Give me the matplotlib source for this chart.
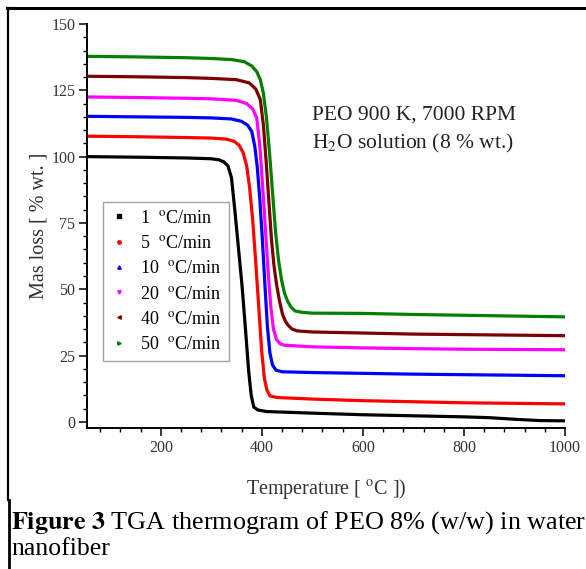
import numpy as np
import matplotlib
matplotlib.use("Agg")
import matplotlib.pyplot as plt
from matplotlib.lines import Line2D

plt.rcParams['font.family'] = ['Liberation Serif', 'DejaVu Serif']
plt.rcParams['mathtext.fontset'] = 'stix'

# TGA curves: temperature (C) and mass (% wt.)
t_1 = [55, 150, 250, 300, 315, 325, 333, 340, 347, 354, 361, 368, 374, 379, 384, 392, 410, 500, 600, 700, 800, 850, 900, 950, 1000]
w_1 = [100.0, 99.8, 99.5, 99.2, 98.8, 98.0, 96.5, 92.0, 79.0, 65.0, 51.0, 34.0, 19.0, 10.0, 5.6, 4.5, 3.9, 3.3, 2.7, 2.3, 1.9, 1.6, 1.0, 0.5, 0.4]

t_5 = [55, 150, 250, 300, 330, 345, 355, 363, 370, 376, 382, 388, 394, 400, 405, 410, 416, 430, 500, 600, 700, 800, 900, 1000]
w_5 = [107.7, 107.5, 107.2, 107.0, 106.6, 105.8, 104.3, 101.5, 96.5, 88.0, 76.0, 60.0, 43.0, 26.0, 16.5, 12.0, 9.8, 9.2, 8.6, 8.0, 7.6, 7.2, 7.0, 6.8]

t_10 = [55, 150, 250, 300, 340, 360, 372, 380, 386, 391, 396, 401, 406, 411, 416, 421, 428, 440, 500, 600, 700, 800, 900, 1000]
w_10 = [115.2, 115.0, 114.8, 114.6, 114.2, 113.3, 111.8, 109.5, 104.0, 96.0, 84.0, 69.0, 52.0, 36.0, 26.0, 21.5, 19.5, 18.9, 18.6, 18.3, 18.0, 17.8, 17.6, 17.4]

t_20 = [55, 150, 250, 300, 350, 370, 382, 390, 396, 399, 404, 409, 413, 418, 423, 429, 436, 445, 500, 600, 700, 800, 900, 1000]
w_20 = [122.5, 122.3, 122.0, 121.8, 121.2, 120.0, 118.0, 114.5, 104.0, 96.0, 82.0, 67.0, 55.0, 43.0, 35.0, 31.0, 29.5, 28.9, 28.3, 27.9, 27.6, 27.4, 27.3, 27.2]

t_40 = [55, 150, 250, 300, 350, 375, 388, 397, 403, 409, 414, 419, 424, 429, 435, 441, 447, 453, 460, 470, 500, 600, 700, 800, 900, 1000]
w_40 = [130.3, 130.1, 129.8, 129.5, 129.0, 127.8, 125.5, 121.5, 112.0, 97.0, 83.0, 69.0, 59.0, 52.0, 45.5, 40.5, 37.8, 36.2, 35.0, 34.3, 33.9, 33.5, 33.1, 32.9, 32.7, 32.5]

t_50 = [55, 150, 250, 300, 340, 365, 380, 390, 397, 403, 409, 415, 421, 427, 433, 439, 445, 451, 458, 466, 480, 500, 600, 700, 800, 900, 1000]
w_50 = [137.8, 137.6, 137.3, 137.0, 136.6, 135.8, 134.2, 132.0, 129.0, 124.0, 115.0, 102.0, 87.0, 72.0, 61.0, 53.5, 48.5, 45.5, 43.2, 41.8, 41.3, 41.0, 40.9, 40.5, 40.2, 39.9, 39.6]

rates = ['1', '5', '10', '20', '40', '50']
temps = [t_1, t_5, t_10, t_20, t_40, t_50]
masses = [w_1, w_5, w_10, w_20, w_40, w_50]
colors = ['black', '#ff0000', '#0000ff', '#ff00ff', '#7b0000', '#008000']
markers = ['s', 'o', '^', 'v', '<', '>']

fig = plt.figure(figsize=(5.86, 5.69), dpi=100)
ax = fig.add_axes([87/586, 1-428/569, 478/586, 404/569])

for t, w, c in zip(temps, masses, colors):
    ax.plot(t, w, color=c, lw=2.3, solid_joinstyle='round')

ax.set_xlim(54, 1000)
ax.set_ylim(-2.3, 150)
ax.set_xticks([200, 400, 600, 800, 1000])
ax.set_xticks(np.arange(80, 1000, 40), minor=True)
ax.set_yticks([0, 25, 50, 75, 100, 125, 150])
ax.set_yticks(np.arange(0, 151, 5), minor=True)
for s in ['top', 'right']:
    ax.spines[s].set_visible(False)
for s in ['left', 'bottom']:
    ax.spines[s].set_linewidth(1.4)
ax.tick_params(which='major', direction='out', length=5.5, width=1.1, labelsize=11.5, pad=3, colors='black', labelcolor='#333333')
ax.tick_params(which='minor', direction='out', length=3, width=1.0)

ax.set_xlabel('Temperature [ $^{\\mathrm{o}}$C ])', fontsize=14.5, color='#333333', labelpad=15)
ax.set_ylabel('Mas loss [ % wt. ]', fontsize=14.5, color='#333333', labelpad=2)

ax.text(0.471, 0.775, 'PEO 900 K, 7000 RPM', transform=ax.transAxes, fontsize=15.5, va='center', ha='left', color='#222222')
ax.text(0.471, 0.705, 'H$_2$O solution (8 % wt.)', transform=ax.transAxes, fontsize=15.5, va='center', ha='left', color='#222222')

handles = [Line2D([], [], ls='none', marker=m, color=c, markersize=2.5) for m, c in zip(markers, colors)]
labels = [r + '  $^{\\mathrm{o}}$C/min' for r in rates]
leg = fig.legend(handles, labels, loc='upper left', bbox_to_anchor=(103/586, 1-202/569),
                 bbox_transform=fig.transFigure, fontsize=13, frameon=True, fancybox=False,
                 borderaxespad=0, labelspacing=0.46, handlelength=0.9, handletextpad=0.75,
                 borderpad=0.42)
leg.get_frame().set_edgecolor('#8c8c8c')
leg.get_frame().set_linewidth(1.0)

# page frame lines around the figure
fig.add_artist(Line2D([7/586, 1], [1-8/569, 1-8/569], color='black', lw=2.2, transform=fig.transFigure))
fig.add_artist(Line2D([8/586, 8/586], [1-8/569, 1-500/569], color='black', lw=1.6, transform=fig.transFigure))
fig.add_artist(Line2D([9/586, 9/586], [1-500/569, 0], color='black', lw=2.0, transform=fig.transFigure))

fig.text(11/586, 1-523/569, r'$\mathbf{Figure\ 3}$ TGA thermogram of PEO 8% (w/w) in water', fontsize=18.8, va='center', ha='left')
fig.text(11/586, 1-549/569, 'nanofiber', fontsize=18.5, va='center', ha='left')

fig.savefig('out.png', dpi=100)
